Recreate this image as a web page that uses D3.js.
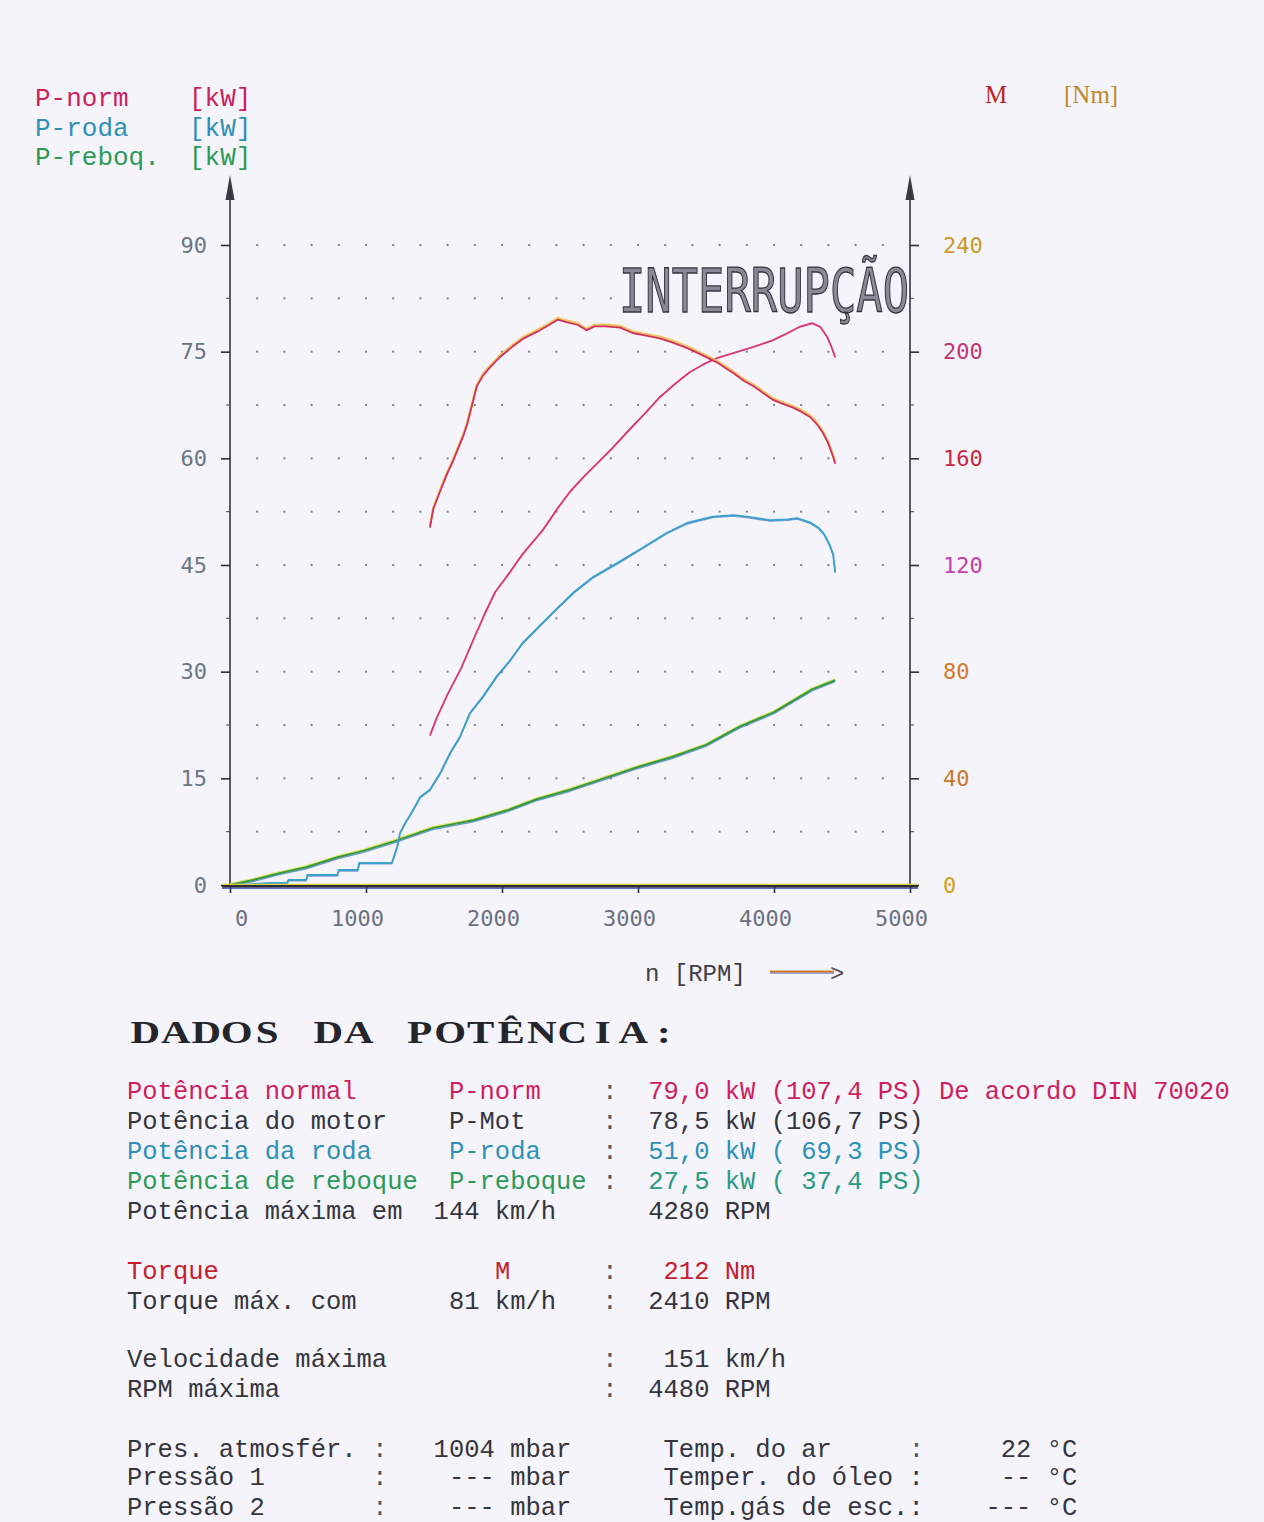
<!DOCTYPE html>
<html>
<head>
<meta charset="utf-8">
<script src="https://cdn.jsdelivr.net/npm/d3@7/dist/d3.min.js"></script>
<style>
  html, body { margin: 0; padding: 0; background: #f4f4fa; }
  svg { display: block; }
  text { white-space: pre; }
</style>
</head>
<body>
<svg id="chart" width="1264" height="1522"></svg>
<script>
// ---- axis ticks ----
const rpmTicks = [0, 1000, 2000, 3000, 4000, 5000];
const powerTicks = [0, 15, 30, 45, 60, 75, 90];
const torqueTicks = [0, 40, 80, 120, 160, 200, 240];

// ---- measured curves: [rpm, value] ----
// normalised power P-norm [kW]
const pNorm = [
  [1470, 21.0], [1520, 23.5], [1600, 26.8], [1700, 30.5], [1790, 34.5], [1870, 38.0],
  [1950, 41.2], [2040, 43.5], [2150, 46.5], [2300, 49.9], [2410, 53.0], [2500, 55.3],
  [2600, 57.4], [2700, 59.3], [2820, 61.6], [2950, 64.3], [3060, 66.5], [3160, 68.6],
  [3280, 70.6], [3380, 72.1], [3480, 73.2], [3580, 74.1], [3700, 74.8], [3820, 75.5],
  [3900, 76.0], [3990, 76.6], [4100, 77.6], [4190, 78.5], [4280, 79.0], [4340, 78.5],
  [4390, 77.1], [4420, 75.8], [4450, 74.2]
];
// torque M [Nm]
const torque = [
  [1470, 134], [1495, 141], [1540, 147], [1595, 154], [1640, 159], [1680, 164],
  [1720, 169], [1745, 173], [1780, 180], [1815, 187], [1860, 191], [1910, 194],
  [1985, 198], [2080, 202], [2160, 205], [2260, 207.5], [2330, 209.5], [2410, 212],
  [2480, 211], [2560, 210], [2620, 208], [2680, 209.5], [2760, 209.5], [2870, 209],
  [2960, 207], [3060, 206], [3160, 205], [3250, 203.5], [3330, 202], [3400, 200.5],
  [3460, 199], [3520, 197.5], [3580, 196], [3640, 194], [3700, 192], [3780, 189],
  [3850, 187], [3920, 184.5], [3990, 182], [4060, 180.5], [4140, 179], [4200, 177.5],
  [4265, 175.5], [4320, 172.5], [4360, 169.5], [4400, 165.5], [4435, 160.5], [4450, 158]
];
// wheel power P-roda [kW]
const pRoda = [
  [0, 0], [150, 0.1], [300, 0.3], [420, 0.3], [430, 0.7], [560, 0.7], [570, 1.4],
  [790, 1.4], [800, 2.1], [940, 2.1], [950, 3.1], [1190, 3.1], [1230, 5.4], [1250, 7.3],
  [1290, 8.8], [1330, 10.0], [1400, 12.4], [1470, 13.4], [1545, 15.7], [1620, 18.6],
  [1690, 20.8], [1765, 24.2], [1860, 26.5], [1960, 29.3], [2060, 31.6], [2150, 34.0],
  [2280, 36.5], [2400, 38.8], [2530, 41.2], [2670, 43.3], [2850, 45.3], [3040, 47.5],
  [3210, 49.5], [3360, 50.9], [3550, 51.8], [3700, 52.0], [3800, 51.8], [3970, 51.3],
  [4100, 51.4], [4170, 51.6], [4265, 51.0], [4330, 50.2], [4370, 49.3], [4410, 47.8],
  [4435, 46.5], [4450, 44.0]
];
// drag power P-reboq [kW]
const pReboq = [
  [0, 0], [170, 0.7], [370, 1.7], [560, 2.5], [790, 3.9], [980, 4.8], [1200, 6.1],
  [1490, 8.0], [1790, 9.1], [2040, 10.5], [2260, 12.1], [2500, 13.4], [2750, 15.0],
  [3000, 16.6], [3250, 18.0], [3500, 19.7], [3750, 22.3], [4000, 24.3], [4280, 27.5],
  [4450, 28.8]
];

// ---- legend labels ----
const legendNames = ["P-norm", "P-roda", "P-reboq."];
const legendUnits = ["[kW]", "[kW]", "[kW]"];
const torqueName = "M";
const torqueUnit = "[Nm]";
const stampText = "INTERRUPÇÃO";
const xTitle = "n [RPM]";
const reportTitle = "DADOS DA POTÊNCIA:";

// ---- report table: [column, text, colour key] ----
const reportRows = [
  [[0, "Potência normal", "norm"], [21, "P-norm", "norm"], [31, ":", "grey"], [34, "79,0 kW (107,4 PS) De acordo DIN 70020", "norm"]],
  [[0, "Potência do motor", "dark"], [21, "P-Mot", "dark"], [31, ":", "grey"], [34, "78,5 kW (106,7 PS)", "dark"]],
  [[0, "Potência da roda", "roda"], [21, "P-roda", "roda"], [31, ":", "grey"], [34, "51,0 kW ( 69,3 PS)", "roda"]],
  [[0, "Potência de reboque", "reboq"], [21, "P-reboque", "reboq"], [31, ":", "grey"], [34, "27,5 kW ( 37,4 PS)", "reboq2"]],
  [[0, "Potência máxima em", "dark"], [20, "144 km/h", "dark"], [34, "4280 RPM", "dark"]],
  [[0, "Torque", "torque"], [24, "M", "torque"], [31, ":", "grey"], [35, "212 Nm", "torque"]],
  [[0, "Torque máx. com", "dark"], [21, "81 km/h", "dark"], [31, ":", "grey"], [34, "2410 RPM", "dark"]],
  [[0, "Velocidade máxima", "dark"], [31, ":", "grey"], [35, "151 km/h", "dark"]],
  [[0, "RPM máxima", "dark"], [31, ":", "grey"], [34, "4480 RPM", "dark"]],
  [[0, "Pres. atmosfér.", "dark"], [16, ":", "grey"], [20, "1004 mbar", "dark"], [35, "Temp. do ar", "dark"], [51, ":", "grey"], [57, "22 °C", "dark"]],
  [[0, "Pressão 1", "dark"], [16, ":", "grey"], [21, "--- mbar", "dark"], [35, "Temper. do óleo :", "dark"], [57, "-- °C", "dark"]],
  [[0, "Pressão 2", "dark"], [16, ":", "grey"], [21, "--- mbar", "dark"], [35, "Temp.gás de esc.:", "dark"], [56, "--- °C", "dark"]]
];
const reportRowY = [1091, 1121, 1151, 1181, 1211, 1271, 1301, 1359, 1389, 1449, 1477, 1507];

// ---- styling ----
const COL = {
  norm: "#cc1f5e", roda: "#2f90b6", reboq: "#2e9a58", reboq2: "#2a9a80",
  torque: "#c4202e", dark: "#35353d", grey: "#55555e"
};
const torqueTickColors = ["#d0a020", "#c8782c", "#d07a2a", "#c23ea8", "#c8283e", "#c43470", "#c99a2a"];
const MONO = "'Liberation Mono', 'Courier New', monospace";
const SERIF = "'Liberation Serif', 'Times New Roman', serif";
const DIGI = "'DejaVu Sans Mono', monospace";

const svg = d3.select("#chart");

// scales
const x = d3.scaleLinear().domain([0, 5000]).range([230, 910]);
const yP = d3.scaleLinear().domain([0, 90]).range([885, 245]);
const yM = d3.scaleLinear().domain([0, 240]).range([885, 245]);

// ---- dotted grid ----
const dotRpm = d3.range(200, 4801, 200);
const dotKw = d3.range(7.5, 90.01, 7.5);
const dots = svg.append("g");
dotKw.forEach(k => {
  dotRpm.forEach(r => {
    dots.append("rect")
      .attr("x", x(r) - 1).attr("y", yP(k) - 1)
      .attr("width", 2).attr("height", 2)
      .attr("fill", "#7c8294");
  });
});

// stamp over the grid (outlined stencil letters)
const stamp = svg.append("g");
stamp.append("rect").attr("x", 612).attr("y", 262).attr("width", 294).attr("height", 56).attr("fill", "#f4f4fa");
stamp.append("text")
  .attr("x", 619).attr("y", 312)
  .attr("textLength", 290).attr("lengthAdjust", "spacingAndGlyphs")
  .attr("font-family", DIGI).attr("font-size", 60)
  .attr("fill", "#8a8a96").attr("stroke", "#34343e").attr("stroke-width", 1.3)
  .text(stampText);

// ---- axes ----
function styleAxis(g, color) {
  g.select(".domain").remove();
  g.selectAll(".tick line").attr("stroke", "#2e2e36").attr("stroke-width", 1.6);
  g.selectAll(".tick text").attr("font-family", DIGI).attr("font-size", 22).attr("fill", color);
}

const leftAxis = svg.append("g").attr("transform", "translate(230,0)")
  .call(d3.axisLeft(yP).tickValues(powerTicks).tickSize(9).tickPadding(14).tickFormat(d3.format("d")));
styleAxis(leftAxis, "#6b7684");

const rightAxis = svg.append("g").attr("transform", "translate(910,0)")
  .call(d3.axisRight(yM).tickValues(torqueTicks).tickSize(9).tickPadding(24).tickFormat(d3.format("d")));
styleAxis(rightAxis, "#c8603a");
rightAxis.selectAll(".tick text").attr("fill", (d, i) => torqueTickColors[i]);

const bottomAxis = svg.append("g").attr("transform", "translate(0,886)")
  .call(d3.axisBottom(x).tickValues(rpmTicks).tickSize(7).tickPadding(17).tickFormat(d3.format("d")));
styleAxis(bottomAxis, "#6b7080");
bottomAxis.selectAll(".tick text").attr("dx", d => d === 0 ? 11 : -9);

// minor ticks on the vertical axes
const minor = svg.append("g").attr("stroke", "#4a4a52").attr("stroke-width", 1);
d3.range(7.5, 90, 15).forEach(k => {
  minor.append("line").attr("x1", 226).attr("x2", 230).attr("y1", yP(k)).attr("y2", yP(k));
  minor.append("line").attr("x1", 910).attr("x2", 914).attr("y1", yP(k)).attr("y2", yP(k));
});

// vertical axis lines with arrow heads
[230, 910].forEach(ax => {
  svg.append("line").attr("x1", ax).attr("x2", ax).attr("y1", 887).attr("y2", 192)
    .attr("stroke", "#33333b").attr("stroke-width", 1.6);
  svg.append("path")
    .attr("d", `M${ax},175 L${ax - 4.5},200 L${ax + 4.5},200 Z`)
    .attr("fill", "#3a3a44");
});

// ---- curves ----
const lineP = d3.line().x(d => x(d[0])).y(d => yP(d[1]));
const lineM = d3.line().x(d => x(d[0])).y(d => yM(d[1]));
const curves = svg.append("g").attr("fill", "none").attr("stroke-linejoin", "round");

// drag power: green with print fringes
curves.append("path").datum(pReboq).attr("d", lineP).attr("transform", "translate(0,1.5)")
  .attr("stroke", "#3d6fd0").attr("stroke-width", 1.4).attr("opacity", 0.7);
curves.append("path").datum(pReboq).attr("d", lineP).attr("transform", "translate(0,-1.3)")
  .attr("stroke", "#e4e040").attr("stroke-width", 1.5).attr("opacity", 0.85);
curves.append("path").datum(pReboq).attr("d", lineP)
  .attr("stroke", "#2f9a3e").attr("stroke-width", 2);

// wheel power
curves.append("path").datum(pRoda).attr("d", lineP).attr("transform", "translate(0,1)")
  .attr("stroke", "#2a55b0").attr("stroke-width", 1.2).attr("opacity", 0.55);
curves.append("path").datum(pRoda).attr("d", lineP)
  .attr("stroke", "#3aa0cc").attr("stroke-width", 1.9);

// normalised power
curves.append("path").datum(pNorm).attr("d", lineP)
  .attr("stroke", "#d8387a").attr("stroke-width", 1.9);

// torque: crimson with an orange-yellow halo
curves.append("path").datum(torque).attr("d", lineM).attr("transform", "translate(0,-1.6)")
  .attr("stroke", "#f0c050").attr("stroke-width", 2.4).attr("opacity", 0.9);
curves.append("path").datum(torque).attr("d", lineM)
  .attr("stroke", "#d2305c").attr("stroke-width", 1.8);

// x axis baseline (drawn on top, with colour fringes)
svg.append("line").attr("x1", 222).attr("x2", 918).attr("y1", 884.3).attr("y2", 884.3)
  .attr("stroke", "#d8d040").attr("stroke-width", 1.2);
svg.append("line").attr("x1", 222).attr("x2", 918).attr("y1", 888.2).attr("y2", 888.2)
  .attr("stroke", "#3040b0").attr("stroke-width", 1.3);
svg.append("line").attr("x1", 222).attr("x2", 918).attr("y1", 886.3).attr("y2", 886.3)
  .attr("stroke", "#2c2c34").attr("stroke-width", 2.4);

// ---- legends ----
const legColors = [COL.norm, COL.roda, COL.reboq];
legendNames.forEach((n, i) => {
  svg.append("text").attr("x", 35).attr("y", 106 + i * 29.5)
    .attr("font-family", MONO).attr("font-size", 26).attr("fill", legColors[i]).text(n);
  svg.append("text").attr("x", 189).attr("y", 106 + i * 29.5)
    .attr("font-family", MONO).attr("font-size", 26).attr("fill", legColors[i]).text(legendUnits[i]);
});
svg.append("text").attr("x", 985).attr("y", 103)
  .attr("font-family", SERIF).attr("font-size", 25).attr("fill", "#b82424").text(torqueName);
svg.append("text").attr("x", 1064).attr("y", 103)
  .attr("font-family", SERIF).attr("font-size", 25).attr("fill", "#c0882a").text(torqueUnit);

// x axis title with arrow
svg.append("text").attr("x", 645).attr("y", 981)
  .attr("font-family", MONO).attr("font-size", 24).attr("fill", "#404048").text(xTitle);
svg.append("line").attr("x1", 770).attr("x2", 834).attr("y1", 973).attr("y2", 973)
  .attr("stroke", "#3a5ab8").attr("stroke-width", 1.2);
svg.append("line").attr("x1", 770).attr("x2", 834).attr("y1", 971.5).attr("y2", 971.5)
  .attr("stroke", "#d07a2a").attr("stroke-width", 2);
svg.append("text").attr("x", 830).attr("y", 981)
  .attr("font-family", MONO).attr("font-size", 24).attr("fill", "#505058").text(">");

// ---- report ----
// heading: extended serif capitals on a fixed pitch
const titlePitch = 30.5;
const title = svg.append("g").attr("font-family", SERIF).attr("font-weight", "bold")
  .attr("font-size", 31).attr("fill", "#25252c").attr("text-anchor", "middle");
Array.from(reportTitle).forEach((ch, i) => {
  if (ch === " ") return;
  title.append("text")
    .attr("transform", `translate(${130 + (i + 0.5) * titlePitch},1043) scale(1.32,1)`)
    .text(ch);
});

const pitch = 15.33;
const report = svg.append("g").attr("font-family", MONO).attr("font-size", 25.5);
reportRows.forEach((row, i) => {
  row.forEach(([col, txt, key]) => {
    report.append("text")
      .attr("x", 127 + col * pitch)
      .attr("y", reportRowY[i] + 8)
      .attr("fill", COL[key])
      .text(txt);
  });
});
</script>
</body>
</html>
